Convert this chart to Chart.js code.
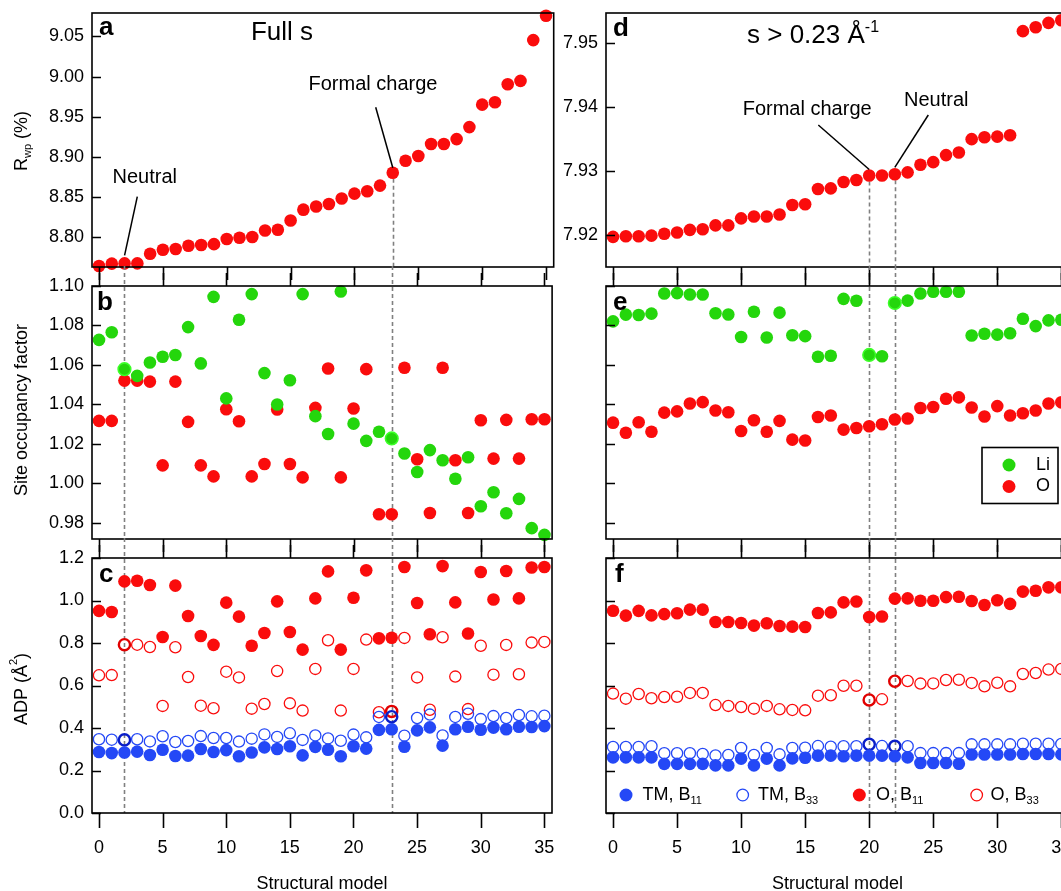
<!DOCTYPE html>
<html>
<head>
<meta charset="utf-8">
<script src="https://cdn.jsdelivr.net/npm/chart.js@4.4.1/dist/chart.umd.min.js"></script>
<style>
html,body{margin:0;padding:0;background:#fff;overflow:hidden;width:1061px;height:891px;position:relative;}
canvas{position:absolute;top:0;}
.lc{left:0;}
.rc{left:545px;}
</style>
</head>
<body>
<canvas id="pa" class="lc" width="560" height="900"></canvas>
<canvas id="pb" class="lc" width="560" height="900"></canvas>
<canvas id="pc" class="lc" width="560" height="900"></canvas>
<canvas id="pd" class="rc" width="535" height="900"></canvas>
<canvas id="pe" class="rc" width="535" height="900"></canvas>
<canvas id="pf" class="rc" width="535" height="900"></canvas>
<script>
// ---------------- data ----------------
const models = [0,1,2,3,4,5,6,7,8,9,10,11,12,13,14,15,16,17,18,19,20,21,22,23,24,25,26,27,28,29,30,31,32,33,34,35];
const xTicks = [0,5,10,15,20,25,30,35];
const rwpFullTicks = [8.80,8.85,8.90,8.95,9.00,9.05];
const rwpHighTicks = [7.92,7.93,7.94,7.95];
const sofTicks = [0.98,1.00,1.02,1.04,1.06,1.08,1.10];
const adpTicks = [0.0,0.2,0.4,0.6,0.8,1.0,1.2];

const rwpFull = [8.7637,8.7667,8.767,8.767,8.779,8.784,8.785,8.789,8.790,8.791,8.7975,8.799,8.800,8.808,8.809,8.8205,8.834,8.838,8.841,8.848,8.854,8.857,8.864,8.880,8.895,8.901,8.916,8.916,8.922,8.937,8.965,8.968,8.9905,8.9946,9.0455,9.0759];
const rwpHigh = [7.9197,7.9198,7.9198,7.9199,7.9202,7.9204,7.9208,7.9209,7.9215,7.9215,7.9226,7.9229,7.9229,7.9232,7.9247,7.9248,7.9272,7.9273,7.9283,7.9286,7.9293,7.9293,7.9295,7.9298,7.9310,7.9314,7.9325,7.9329,7.9350,7.9353,7.9354,7.9356,7.9519,7.9525,7.9532,7.9536];

const sofLiFull = [1.0725,1.0764,1.0577,1.0543,1.0611,1.0640,1.0649,1.0790,1.0606,1.0943,1.0429,1.0827,1.0957,1.0557,1.0398,1.0521,1.0957,1.0339,1.0249,1.0970,1.0301,1.0214,1.0260,1.0226,1.0150,1.0056,1.0167,1.0116,1.0022,1.0131,0.9883,0.9954,0.9847,0.9920,0.9772,0.9738];
const sofOFull = [1.0315,1.0315,1.0519,1.0519,1.0514,1.0090,1.0514,1.0310,1.0090,1.0034,1.0374,1.0313,1.0034,1.0097,1.0373,1.0097,1.0029,1.0381,1.0580,1.0029,1.0378,1.0577,0.9842,0.9842,1.0584,1.0121,0.9849,1.0584,1.0116,0.9849,1.0318,1.0124,1.0320,1.0124,1.0323,1.0323];
const sofLiHigh = [1.0819,1.0853,1.0851,1.0858,1.0960,1.0962,1.0955,1.0955,1.0860,1.0854,1.0740,1.0868,1.0737,1.0863,1.0749,1.0744,1.0640,1.0645,1.0933,1.0923,1.0649,1.0642,1.0912,1.0924,1.0960,1.0969,1.0969,1.0969,1.0747,1.0756,1.0752,1.0759,1.0832,1.0795,1.0824,1.0827];
const sofOHigh = [1.0306,1.0255,1.0308,1.0260,1.0357,1.0363,1.0403,1.0410,1.0368,1.0359,1.0264,1.0318,1.0260,1.0315,1.0220,1.0216,1.0335,1.0342,1.0271,1.0279,1.0288,1.0298,1.0322,1.0327,1.0380,1.0385,1.0427,1.0434,1.0383,1.0337,1.0390,1.0342,1.0354,1.0368,1.0403,1.0409];

const adpOB11Full = [0.951,0.946,1.090,1.093,1.073,0.828,1.070,0.927,0.833,0.791,0.990,0.924,0.787,0.847,0.996,0.852,0.769,1.010,1.137,0.769,1.013,1.142,0.822,0.825,1.158,0.988,0.841,1.162,0.991,0.845,1.134,1.005,1.139,1.010,1.155,1.158];
const adpOB33Full = [0.648,0.649,0.792,0.792,0.781,0.504,0.780,0.640,0.505,0.493,0.665,0.638,0.491,0.513,0.668,0.516,0.482,0.678,0.813,0.482,0.678,0.816,0.474,0.478,0.824,0.638,0.486,0.827,0.642,0.489,0.787,0.651,0.791,0.653,0.802,0.805];
const adpTmB11Full = [0.287,0.282,0.285,0.289,0.273,0.298,0.268,0.270,0.301,0.287,0.296,0.267,0.285,0.309,0.301,0.314,0.271,0.311,0.298,0.267,0.314,0.303,0.391,0.394,0.312,0.389,0.403,0.317,0.394,0.406,0.392,0.402,0.394,0.406,0.405,0.409];
const adpTmB33Full = [0.347,0.345,0.344,0.347,0.337,0.361,0.334,0.339,0.362,0.353,0.353,0.336,0.350,0.370,0.358,0.375,0.344,0.365,0.351,0.340,0.369,0.356,0.452,0.453,0.364,0.447,0.463,0.365,0.452,0.467,0.442,0.456,0.447,0.461,0.455,0.458];

const adpOB11High = [0.952,0.929,0.951,0.930,0.936,0.940,0.957,0.957,0.899,0.899,0.894,0.882,0.893,0.880,0.877,0.875,0.941,0.944,0.991,0.995,0.922,0.925,1.009,1.010,0.999,0.999,1.016,1.018,0.998,0.979,1.001,0.984,1.042,1.046,1.062,1.062];
const adpOB33High = [0.562,0.538,0.560,0.540,0.546,0.547,0.565,0.565,0.508,0.504,0.499,0.491,0.504,0.488,0.485,0.483,0.552,0.554,0.599,0.599,0.532,0.535,0.620,0.621,0.609,0.610,0.626,0.627,0.612,0.596,0.613,0.596,0.654,0.659,0.675,0.678];
const adpTmB11High = [0.262,0.262,0.262,0.262,0.231,0.231,0.231,0.231,0.224,0.224,0.256,0.224,0.256,0.224,0.257,0.260,0.270,0.270,0.267,0.270,0.270,0.270,0.267,0.262,0.235,0.235,0.235,0.232,0.275,0.275,0.275,0.275,0.278,0.278,0.278,0.276];
const adpTmB33High = [0.311,0.311,0.311,0.314,0.281,0.281,0.281,0.278,0.271,0.273,0.306,0.273,0.306,0.276,0.306,0.307,0.315,0.312,0.314,0.314,0.323,0.315,0.314,0.314,0.282,0.282,0.282,0.282,0.323,0.323,0.323,0.323,0.326,0.326,0.326,0.325];

const markedFull = [2, 23];
const markedHigh = [20, 22];

// ---------------- style ----------------
const FONT = "'Liberation Sans', Arial, Helvetica, sans-serif";
const RED = 'rgb(250,12,12)', GREEN = 'rgb(36,214,12)', BLUE = 'rgb(36,72,246)';
Chart.defaults.font.family = FONT;
Chart.defaults.color = '#000';

const COLS = {
  left:  {yw: 92, pr: 5,  ox: 0},
  right: {yw: 61, pr: 11, ox: 545}
};
const ROWS = {
  top: {top: 13,  bottom: 267, xh: 20, ticksTop: false, botLen: 13},
  mid: {top: 286, bottom: 539, xh: 20, ticksTop: true,  botLen: 13},
  bot: {top: 558, bottom: 813, xh: 87, ticksTop: true,  botLen: 15}
};
const CH = 900;

function ds(label, vals, color, open, marked, hl) {
  return {
    label,
    data: models.map((m, i) => ({x: m, y: vals[i]})),
    showLine: false,
    clip: false,
    pointRadius: open ? 5.6 : 6.3,
    pointHoverRadius: open ? 5.6 : 6.3,
    pointBackgroundColor: open ? 'rgba(255,255,255,0)' : color,
    pointBorderColor: c => (hl && marked.includes(c.dataIndex)) ? hl.color : color,
    pointBorderWidth: c => (hl && marked.includes(c.dataIndex)) ? hl.width : (open ? 1.3 : 0)
  };
}

function drawRuns(ctx, runs, x, y, size, opt) {
  opt = opt || {};
  const fontOf = r => (opt.bold ? 'bold ' : '') + ((r.sub || r.sup) ? Math.round(size * 0.62) : size) + 'px ' + FONT;
  let w = 0;
  runs.forEach(r => { ctx.font = fontOf(r); r._w = ctx.measureText(r.t).width; w += r._w; });
  ctx.save();
  ctx.translate(x, y);
  if (opt.rot) ctx.rotate(opt.rot);
  let cx = opt.align === 'center' ? -w / 2 : (opt.align === 'right' ? -w : 0);
  ctx.textAlign = 'left';
  ctx.textBaseline = opt.baseline || 'alphabetic';
  ctx.fillStyle = '#000';
  runs.forEach(r => {
    ctx.font = fontOf(r);
    const dy = r.sub ? size * 0.33 : (r.sup ? -size * 0.42 : 0);
    ctx.fillText(r.t, cx, dy);
    cx += r._w;
  });
  ctx.restore();
}

const deco = {
  id: 'deco',
  beforeDatasetsDraw(chart) {
    const o = chart.options.plugins.deco;
    const {ctx, chartArea: ca} = chart;
    const xs = chart.scales.x, ys = chart.scales.y;
    ctx.save();
    ctx.strokeStyle = '#808080';
    ctx.lineWidth = 1.6;
    ctx.setLineDash([4, 3]);
    (o.vlines || []).forEach(v => {
      const px = Math.round(xs.getPixelForValue(v.x)) + 0.5;
      const y0 = (v.from !== undefined) ? ys.getPixelForValue(v.from) + 6 : ca.top - o.gap;
      ctx.beginPath(); ctx.moveTo(px, y0); ctx.lineTo(px, ca.bottom); ctx.stroke();
    });
    ctx.restore();
  },
  afterDraw(chart) {
    const o = chart.options.plugins.deco;
    const {ctx, chartArea: ca} = chart;
    const xs = chart.scales.x, ys = chart.scales.y;
    const ox = o.ox;
    ctx.save();
    ctx.strokeStyle = '#000';
    ctx.lineWidth = 1.6;
    ctx.setLineDash([]);
    ctx.strokeRect(ca.left, ca.top, ca.right - ca.left, ca.bottom - ca.top);
    // y ticks (inward)
    ctx.beginPath();
    ys.ticks.forEach(t => {
      const py = Math.round(ys.getPixelForValue(t.value)) + 0.5;
      ctx.moveTo(ca.left, py); ctx.lineTo(ca.left + 9, py);
    });
    // x ticks (outward)
    xs.ticks.forEach(t => {
      const px = Math.round(xs.getPixelForValue(t.value)) + 0.5;
      ctx.moveTo(px, ca.bottom); ctx.lineTo(px, ca.bottom + o.botLen);
      if (o.ticksTop) { ctx.moveTo(px, ca.top); ctx.lineTo(px, ca.top - 13); }
    });
    ctx.stroke();
    // leader lines
    ctx.lineWidth = 1.5;
    (o.leaders || []).forEach(l => {
      ctx.beginPath();
      ctx.moveTo(l.from[0] - ox, l.from[1]);
      ctx.lineTo(xs.getPixelForValue(l.at[0]), ys.getPixelForValue(l.at[1]) + l.dy);
      ctx.stroke();
    });
    // texts
    (o.texts || []).forEach(t => {
      drawRuns(ctx, t.runs, t.x - ox, t.y, t.size, t);
    });
    // legend box
    if (o.legendBox) {
      const b = o.legendBox;
      ctx.fillStyle = '#fff';
      ctx.fillRect(b[0] - ox, b[1], b[2], b[3]);
      ctx.lineWidth = 1.6;
      ctx.strokeStyle = '#000';
      ctx.strokeRect(b[0] - ox, b[1], b[2], b[3]);
    }
    (o.legend || []).forEach(it => {
      ctx.beginPath();
      ctx.arc(it.mx - ox, it.y, it.open ? 5.8 : 6.5, 0, Math.PI * 2);
      if (it.open) {
        ctx.lineWidth = 1.3; ctx.strokeStyle = it.color; ctx.stroke();
      } else {
        ctx.fillStyle = it.color; ctx.fill();
      }
      drawRuns(ctx, it.runs, it.tx - ox, it.y, 18, {baseline: 'middle'});
    });
    ctx.restore();
  }
};

function zeroPad(s) { s.paddingLeft = 0; s.paddingRight = 0; s.paddingTop = 0; s.paddingBottom = 0; }

function makePanel(id, col, row, yMin, yMax, yTicks, yDec, showYLabels, datasets, decoOpts) {
  const C = COLS[col], R = ROWS[row];
  const isBot = row === 'bot';
  decoOpts.ox = C.ox; decoOpts.ticksTop = R.ticksTop; decoOpts.botLen = R.botLen; decoOpts.gap = 20;
  return new Chart(document.getElementById(id), {
    type: 'scatter',
    data: {datasets},
    plugins: [deco],
    options: {
      responsive: false,
      animation: false,
      devicePixelRatio: 1,
      events: [],
      layout: {padding: {left: 0, right: C.pr, top: R.top, bottom: CH - R.bottom - R.xh}},
      scales: {
        x: {
          type: 'linear', min: -0.55, max: 35.6,
          afterBuildTicks: s => { s.ticks = xTicks.map(v => ({value: v})); },
          afterFit: s => { s.height = R.xh; zeroPad(s); },
          grid: {display: false, drawTicks: false},
          border: {display: false},
          ticks: {display: isBot, padding: 24, font: {size: 18}, maxRotation: 0, autoSkip: false, callback: v => String(v)},
          title: {display: isBot, text: 'Structural model', font: {size: 18}, padding: {top: 0, bottom: 5}}
        },
        y: {
          type: 'linear', min: yMin, max: yMax,
          afterBuildTicks: s => { s.ticks = yTicks.map(v => ({value: v})); },
          afterFit: s => { s.width = C.yw; zeroPad(s); },
          grid: {display: false, drawTicks: false},
          border: {display: false},
          ticks: {display: showYLabels, padding: 8, font: {size: 18}, autoSkip: false, callback: v => Number(v).toFixed(yDec)}
        }
      },
      plugins: {legend: {display: false}, tooltip: {enabled: false}, deco: decoOpts}
    }
  });
}

const hlLi = {color: 'rgb(60,255,40)', width: 1.6};
const hlTm = {color: 'rgb(10,30,200)', width: 2.4};
const hlO = {color: 'rgb(225,0,0)', width: 2.4};

// ---- a ----
makePanel('pa', 'left', 'top', 8.7625, 9.0793, rwpFullTicks, 2, true, [
  ds('Rwp', rwpFull, RED, false, markedFull, null)
], {
  vlines: [{x: 2, from: rwpFull[2]}, {x: 23, from: rwpFull[23]}],
  leaders: [
    {from: [137.3, 196.7], at: [2, rwpFull[2]], dy: -8},
    {from: [375.7, 107.3], at: [23, rwpFull[23]], dy: -5}
  ],
  texts: [
    {runs: [{t: 'a'}], x: 99, y: 35, size: 26, bold: true},
    {runs: [{t: 'Full s'}], x: 282, y: 40, size: 26, align: 'center'},
    {runs: [{t: 'Neutral'}], x: 112.5, y: 183, size: 20},
    {runs: [{t: 'Formal charge'}], x: 308.5, y: 90, size: 20},
    {runs: [{t: 'R'}, {t: 'wp', sub: true}, {t: ' (%)'}], x: 22, y: 141, size: 18, align: 'center', rot: -Math.PI / 2, baseline: 'middle'}
  ]
});

// ---- b ----
makePanel('pb', 'left', 'mid', 0.9717, 1.0998, sofTicks, 2, true, [
  ds('Li', sofLiFull, GREEN, false, markedFull, hlLi),
  ds('O', sofOFull, RED, false, markedFull, null)
], {
  vlines: [{x: 2}, {x: 23}],
  texts: [
    {runs: [{t: 'b'}], x: 97, y: 310, size: 26, bold: true},
    {runs: [{t: 'Site occupancy factor'}], x: 22, y: 410, size: 18, align: 'center', rot: -Math.PI / 2, baseline: 'middle'}
  ]
});

// ---- c ----
makePanel('pc', 'left', 'bot', 0, 1.2, adpTicks, 1, true, [
  ds('TM, B11', adpTmB11Full, BLUE, false, markedFull, null),
  ds('TM, B33', adpTmB33Full, BLUE, true, markedFull, hlTm),
  ds('O, B11', adpOB11Full, RED, false, markedFull, null),
  ds('O, B33', adpOB33Full, RED, true, markedFull, hlO)
], {
  vlines: [{x: 2}, {x: 23}],
  texts: [
    {runs: [{t: 'c'}], x: 99, y: 582, size: 26, bold: true},
    {runs: [{t: 'ADP (Å'}, {t: '2', sup: true}, {t: ')'}], x: 22, y: 689, size: 18, align: 'center', rot: -Math.PI / 2, baseline: 'middle'}
  ]
});

// ---- d ----
makePanel('pd', 'right', 'top', 7.91499, 7.95474, rwpHighTicks, 2, true, [
  ds('Rwp', rwpHigh, RED, false, markedHigh, null)
], {
  vlines: [{x: 20, from: rwpHigh[20]}, {x: 22, from: rwpHigh[22]}],
  leaders: [
    {from: [818.3, 125], at: [20, rwpHigh[20]], dy: -6},
    {from: [928.3, 115], at: [22, rwpHigh[22]], dy: -7}
  ],
  texts: [
    {runs: [{t: 'd'}], x: 613, y: 36, size: 26, bold: true},
    {runs: [{t: 's > 0.23 Å'}, {t: '-1', sup: true}], x: 747, y: 43, size: 26},
    {runs: [{t: 'Formal charge'}], x: 742.7, y: 115, size: 20},
    {runs: [{t: 'Neutral'}], x: 904, y: 105.5, size: 20}
  ]
});

// ---- e ----
makePanel('pe', 'right', 'mid', 0.9717, 1.0998, sofTicks, 2, false, [
  ds('Li', sofLiHigh, GREEN, false, markedHigh, hlLi),
  ds('O', sofOHigh, RED, false, markedHigh, null)
], {
  vlines: [{x: 20}, {x: 22}],
  texts: [
    {runs: [{t: 'e'}], x: 613, y: 310, size: 26, bold: true}
  ],
  legendBox: [982, 447.5, 76, 56],
  legend: [
    {color: GREEN, open: false, mx: 1009, tx: 1036, y: 465, runs: [{t: 'Li'}]},
    {color: RED, open: false, mx: 1009, tx: 1036, y: 486.5, runs: [{t: 'O'}]}
  ]
});

// ---- f ----
makePanel('pf', 'right', 'bot', 0, 1.2, adpTicks, 1, false, [
  ds('TM, B11', adpTmB11High, BLUE, false, markedHigh, null),
  ds('TM, B33', adpTmB33High, BLUE, true, markedHigh, hlTm),
  ds('O, B11', adpOB11High, RED, false, markedHigh, null),
  ds('O, B33', adpOB33High, RED, true, markedHigh, hlO)
], {
  vlines: [{x: 20}, {x: 22}],
  texts: [
    {runs: [{t: 'f'}], x: 615, y: 582, size: 26, bold: true}
  ],
  legend: [
    {color: BLUE, open: false, mx: 626, tx: 642.5, y: 795, runs: [{t: 'TM, B'}, {t: '11', sub: true}]},
    {color: BLUE, open: true, mx: 742.7, tx: 758, y: 795, runs: [{t: 'TM, B'}, {t: '33', sub: true}]},
    {color: RED, open: false, mx: 859.3, tx: 876, y: 795, runs: [{t: 'O, B'}, {t: '11', sub: true}]},
    {color: RED, open: true, mx: 976.7, tx: 990.5, y: 795, runs: [{t: 'O, B'}, {t: '33', sub: true}]}
  ]
});
</script>
</body>
</html>
